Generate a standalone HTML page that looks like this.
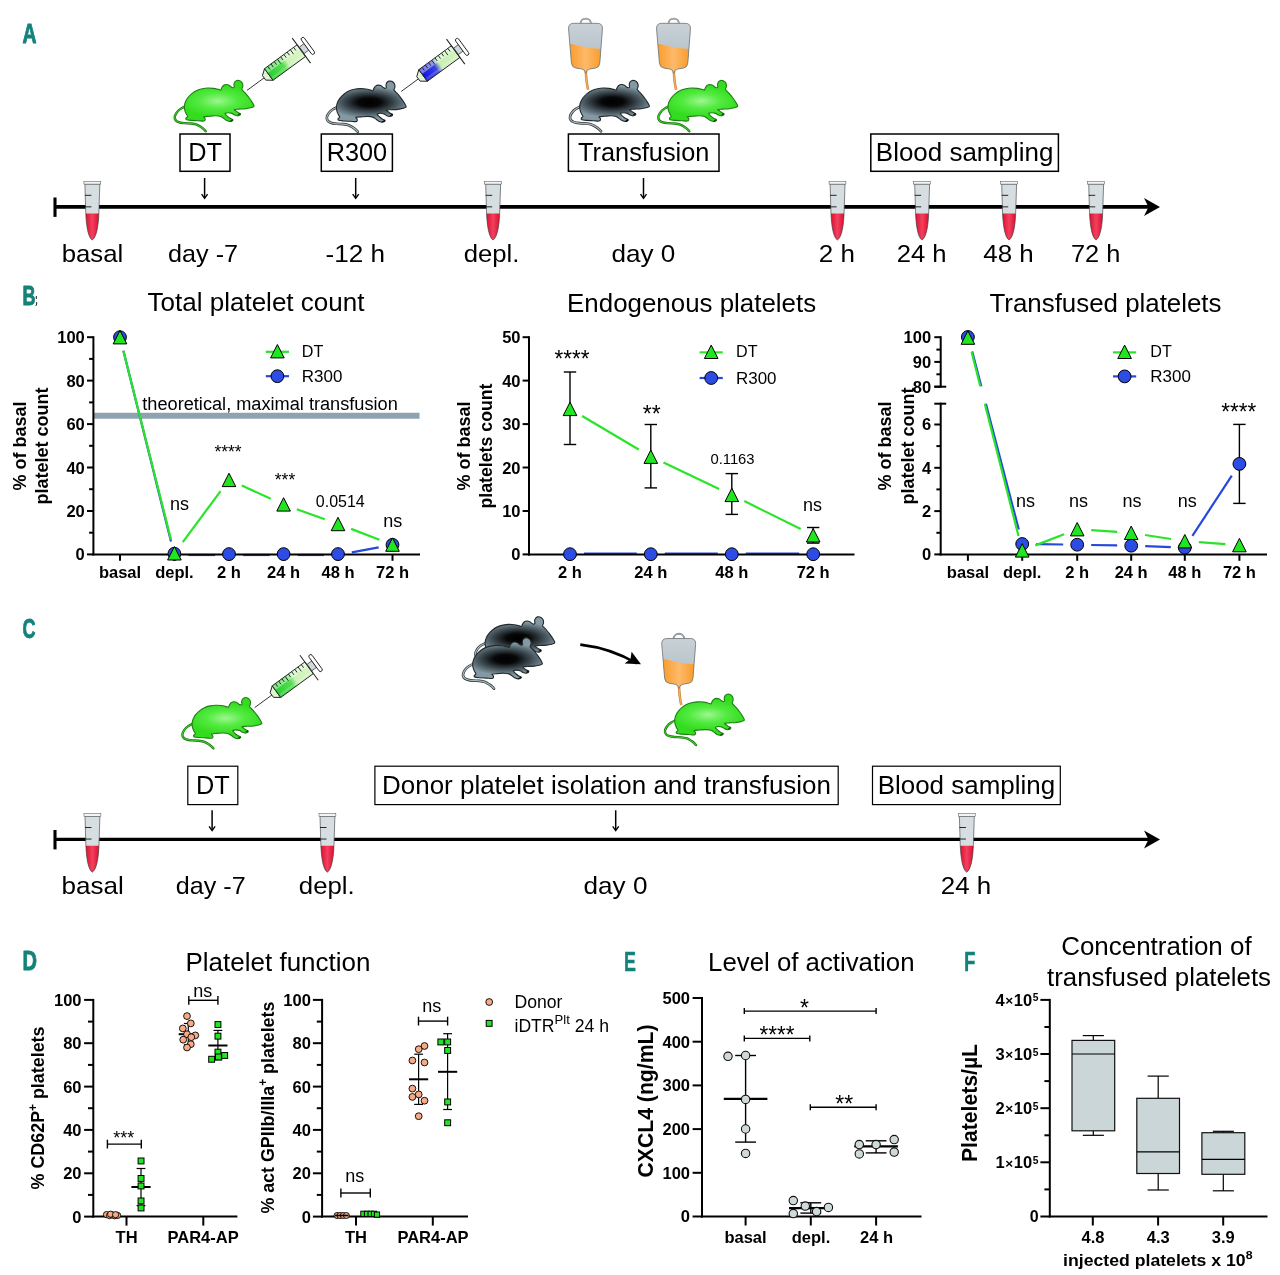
<!DOCTYPE html>
<html><head><meta charset="utf-8"><title>Figure</title>
<style>
html,body{margin:0;padding:0;background:#fff}
svg{display:block;will-change:transform;transform:translateZ(0)}
text{font-family:"Liberation Sans", sans-serif;}
</style></head>
<body>
<svg width="1280" height="1275" viewBox="0 0 1280 1275">
<defs>
<radialGradient id="gG" cx="0.48" cy="0.5" r="0.55" gradientTransform="translate(0 0.15) scale(1 0.7)">
 <stop offset="0" stop-color="#9cf78e"/><stop offset="0.5" stop-color="#52ea40"/><stop offset="1" stop-color="#33dc1e"/>
</radialGradient>
<radialGradient id="gK" cx="0.47" cy="0.52" r="0.6" gradientTransform="translate(0 0.18) scale(1 0.65)">
 <stop offset="0" stop-color="#000"/><stop offset="0.27" stop-color="#060708"/><stop offset="0.62" stop-color="#3f4c53"/><stop offset="1" stop-color="#8499a3"/>
</radialGradient>
<linearGradient id="gBlood" x1="0" x2="1" y1="0" y2="0">
 <stop offset="0" stop-color="#e00f30"/><stop offset="0.5" stop-color="#f2405f"/><stop offset="1" stop-color="#dc0e2e"/>
</linearGradient>
<linearGradient id="gOr" x1="0" x2="1" y1="0" y2="0">
 <stop offset="0" stop-color="#f8971f"/><stop offset="0.5" stop-color="#fdb96a"/><stop offset="1" stop-color="#f8951c"/>
</linearGradient>
<linearGradient id="gBag" x1="0" x2="0" y1="0" y2="1">
 <stop offset="0" stop-color="#c9d1d6"/><stop offset="1" stop-color="#aab9c4"/>
</linearGradient>
<linearGradient id="gSyG" x1="0" x2="1" y1="0" y2="0">
 <stop offset="0" stop-color="#27cf33"/><stop offset="0.42" stop-color="#55dd50"/><stop offset="0.56" stop-color="#cdf2b8"/><stop offset="1" stop-color="#d8f5c6"/>
</linearGradient>
<linearGradient id="gSyB" x1="0" x2="1" y1="0" y2="0">
 <stop offset="0" stop-color="#1414e0"/><stop offset="0.36" stop-color="#3a44e0"/><stop offset="0.5" stop-color="#c8efb4"/><stop offset="1" stop-color="#d4f3c0"/>
</linearGradient>
</defs>
<defs>
<path id="mB" d="M709.6,645.1 C708.5,640.3 705.1,633.0 699.0,622.7 C692.9,612.4 682.2,595.8 673.2,583.5 C664.2,571.1 653.4,558.2 645.2,548.7 C637.0,539.2 629.3,532.4 623.9,526.3 C618.5,520.2 613.2,518.6 612.7,512.3 C612.1,505.9 620.2,496.7 620.5,488.2 C620.9,479.7 619.0,468.6 614.9,461.3 C610.8,454.0 603.0,447.6 595.9,444.5 C588.8,441.3 579.1,440.5 572.3,442.2 C565.6,443.9 559.3,448.9 555.5,454.6 C551.7,460.2 549.9,469.5 549.3,475.8 C548.8,482.2 553.4,488.6 552.1,492.7 C550.9,496.7 546.2,499.8 542.1,500.0 C537.9,500.1 532.7,497.1 527.5,493.8 C522.3,490.5 517.2,483.5 510.7,480.3 C504.1,477.2 495.7,474.4 488.2,474.7 C480.8,475.1 471.9,478.1 465.8,482.6 C459.8,487.1 455.4,495.7 451.8,501.6 C448.3,507.6 448.7,516.5 444.5,518.4 C440.3,520.4 436.1,515.6 426.6,513.4 C417.1,511.2 401.4,506.9 387.4,505.0 C373.3,503.1 357.5,501.7 342.5,502.2 C327.6,502.7 312.6,504.5 297.7,507.8 C282.7,511.1 266.9,515.3 252.8,521.8 C238.8,528.3 225.3,537.7 213.6,547.0 C201.9,556.4 191.2,567.1 182.8,577.9 C174.4,588.6 167.8,600.3 163.2,611.5 C158.5,622.7 155.7,633.9 154.8,645.1 C153.8,656.3 155.0,667.9 157.6,678.8 C160.1,689.6 166.1,701.7 169.9,710.1 C173.6,718.5 180.5,723.6 180.0,729.2 C179.4,734.8 167.8,739.5 166.5,743.8 C165.2,748.1 165.2,752.3 172.1,755.0 C179.0,757.7 192.7,758.7 208.0,760.0 C223.3,761.3 247.4,761.9 264.1,762.8 C280.7,763.8 298.4,766.6 307.8,765.6 C317.1,764.7 318.3,760.9 320.1,757.2 C321.9,753.6 320.1,748.1 318.4,743.8 C316.7,739.5 304.1,734.2 310.0,731.4 C315.9,728.6 338.0,728.3 353.7,727.0 C369.4,725.6 389.2,723.2 404.2,723.6 C419.1,724.0 432.4,725.5 443.4,729.2 C454.4,732.9 462.8,740.9 470.3,746.0 C477.8,751.1 480.8,756.2 488.2,760.0 C495.7,763.9 507.7,768.0 515.2,769.0 C522.6,770.0 528.7,768.5 533.1,766.2 C537.5,763.9 543.4,758.3 541.5,755.0 C539.6,751.6 528.7,750.1 521.9,746.0 C515.1,741.9 506.9,735.7 500.6,730.3 C494.2,724.9 487.1,717.9 483.8,713.5 C480.4,709.1 476.9,706.4 480.4,704.0 C484.0,701.5 496.3,698.8 505.1,698.9 C513.8,699.0 524.7,701.4 533.1,704.5 C541.5,707.7 548.0,714.7 555.5,718.0 C563.0,721.3 571.0,724.1 577.9,724.2 C584.8,724.2 593.3,721.3 597.0,718.5 C600.7,715.7 603.3,711.1 600.4,707.3 C597.4,703.6 585.4,700.2 579.1,696.1 C572.7,692.0 566.5,686.5 562.2,682.7 C557.9,678.8 548.8,675.2 553.3,673.1 C557.8,671.1 573.8,671.3 589.1,670.3 C604.5,669.4 629.3,669.3 645.2,667.5 C661.1,665.8 674.3,662.3 684.4,659.7 C694.5,657.1 701.5,654.3 705.7,651.8 C709.9,649.4 710.8,650.0 709.6,645.1Z"/><path id="mT" d="M160.4,649.6 C154.3,652.8 134.9,660.8 123.9,668.7 C112.9,676.5 101.9,686.6 94.2,696.7 C86.6,706.8 79.7,719.1 78.0,729.2 C76.2,739.3 78.5,749.7 83.6,757.2 C88.6,764.7 96.8,769.8 108.2,774.0 C119.6,778.2 135.3,780.6 151.9,782.4 C168.6,784.3 191.2,783.3 208.0,785.2 C224.8,787.2 239.8,789.5 252.8,794.2 C265.9,798.9 277.1,807.3 286.5,813.3 C295.8,819.2 302.5,824.5 308.9,830.1 C315.2,835.7 322.0,844.1 324.6,846.9"/>
<g id="mouseG"><use href="#mT" fill="none" stroke="#1c7412" stroke-width="19" stroke-linecap="round"/><use href="#mT" fill="none" stroke="#3ad028" stroke-width="8" stroke-linecap="round"/><use href="#mB" fill="url(#gG)" stroke="#1f7f14" stroke-width="9"/><path d="M522,766 l16,-9 M585,716 l13,-8" stroke="#123c0a" stroke-width="9" stroke-linecap="round"/></g>
<g id="mouseK"><use href="#mT" fill="none" stroke="#2a3236" stroke-width="21" stroke-linecap="round"/><use href="#mT" fill="none" stroke="#a9b7be" stroke-width="10" stroke-linecap="round"/><use href="#mB" fill="url(#gK)" stroke="#222a2d" stroke-width="9"/><path d="M522,766 l16,-9 M585,716 l13,-8" stroke="#0a0a0a" stroke-width="9" stroke-linecap="round"/></g>
<g id="syG"><line x1="0" y1="0" x2="21.5" y2="0" stroke="#333" stroke-width="0.9"/><path d="M21.2,-2.8 L27,-7.2 L27,7.2 L21.2,2.8 Z" fill="#e0f5d2" stroke="#222" stroke-width="0.9" stroke-linejoin="round"/><rect x="27" y="-7.2" width="40.4" height="14.4" fill="url(#gSyG)" stroke="#222" stroke-width="0.9"/><rect x="27.5" y="-6.7" width="39.4" height="4.8" fill="#fff" opacity="0.42"/><rect x="27.5" y="3.6" width="39.4" height="2.6" fill="#fff" opacity="0.18"/><path d="M31,-7.2 v3.9 M35,-7.2 v3.9 M39,-7.2 v3.9 M43,-7.2 v5.4 M47,-7.2 v3.9 M51,-7.2 v3.9 M55,-7.2 v3.9 M59,-7.2 v5.4 M63,-7.2 v3.9 " stroke="#16301a" stroke-width="0.9" fill="none"/><line x1="67.4" y1="-15.5" x2="67.4" y2="15.5" stroke="#222" stroke-width="1"/><rect x="67.9" y="-4" width="5.8" height="8" fill="#cfd8df" stroke="#333" stroke-width="0.7"/><rect x="73.6" y="-10.1" width="3.6" height="20.2" rx="1.8" fill="#fff" stroke="#222" stroke-width="0.9"/></g>
<g id="syB"><line x1="0" y1="0" x2="21.5" y2="0" stroke="#333" stroke-width="0.9"/><path d="M21.2,-2.8 L27,-7.2 L27,7.2 L21.2,2.8 Z" fill="#e0f5d2" stroke="#222" stroke-width="0.9" stroke-linejoin="round"/><rect x="27" y="-7.2" width="40.4" height="14.4" fill="url(#gSyB)" stroke="#222" stroke-width="0.9"/><rect x="27.5" y="-6.7" width="39.4" height="4.8" fill="#fff" opacity="0.42"/><rect x="27.5" y="3.6" width="39.4" height="2.6" fill="#fff" opacity="0.18"/><path d="M31,-7.2 v3.9 M35,-7.2 v3.9 M39,-7.2 v3.9 M43,-7.2 v5.4 M47,-7.2 v3.9 M51,-7.2 v3.9 M55,-7.2 v3.9 M59,-7.2 v5.4 M63,-7.2 v3.9 " stroke="#16301a" stroke-width="0.9" fill="none"/><line x1="67.4" y1="-15.5" x2="67.4" y2="15.5" stroke="#222" stroke-width="1"/><rect x="67.9" y="-4" width="5.8" height="8" fill="#cfd8df" stroke="#333" stroke-width="0.7"/><rect x="73.6" y="-10.1" width="3.6" height="20.2" rx="1.8" fill="#fff" stroke="#222" stroke-width="0.9"/></g>
<clipPath id="bagc"><path d="M150,146 H336 Q381,146 378,192 L357,462 Q354,498 322,503 L276,510 Q250,516 245,545 Q240,516 214,510 L168,503 Q134,498 131,462 L108,192 Q105,146 150,146 Z"/></clipPath>
<g id="bag"><path d="M245,500 C246,560 248,610 264,676" fill="none" stroke="#c97f2f" stroke-width="20"/><path d="M245,500 C246,560 248,610 264,676" fill="none" stroke="#f3b065" stroke-width="10"/><path d="M203,150 C203,94 287,94 287,150" fill="none" stroke="#75797d" stroke-width="14"/><path d="M203,150 C203,94 287,94 287,150" fill="none" stroke="#e3e6e8" stroke-width="4"/><path d="M150,146 H336 Q381,146 378,192 L357,462 Q354,498 322,503 L276,510 Q250,516 245,545 Q240,516 214,510 L168,503 Q134,498 131,462 L108,192 Q105,146 150,146 Z" fill="url(#gBag)"/><path d="M90,306 C170,312 250,352 400,350 L400,560 L90,560 Z" fill="url(#gOr)" clip-path="url(#bagc)"/><path d="M150,146 H336 Q381,146 378,192 L357,462 Q354,498 322,503 L276,510 Q250,516 245,545 Q240,516 214,510 L168,503 Q134,498 131,462 L108,192 Q105,146 150,146 Z" fill="none" stroke="#777b7e" stroke-width="7"/></g>
<g id="tube"><path d="M572,180 L762,180 L750,555 C744,720 718,862 665,893 C614,862 590,720 583,555 Z" fill="#d6dee1"/><path d="M583,555 L750,555 C744,720 718,862 665,893 C614,862 590,720 583,555 Z" fill="url(#gBlood)"/><path d="M572,180 L762,180 L750,555 C744,720 718,862 665,893 C614,862 590,720 583,555 Z" fill="none" stroke="#3c3f41" stroke-width="8"/><rect x="559" y="144" width="215" height="36" fill="#f3f5f5" stroke="#5a5d5f" stroke-width="7"/><path d="M572,323 H655 M572,470 H655" stroke="#1a1a1a" stroke-width="12"/></g>
</defs>
<text x="22.4" y="42.8" font-size="27.2" text-anchor="start" font-weight="bold" textLength="14.0" lengthAdjust="spacingAndGlyphs" fill="#14827b" stroke="#14827b" stroke-width="0.9" stroke-linejoin="round">A</text>
<line x1="55.0" y1="206.9" x2="1152.0" y2="206.9" stroke="#000" stroke-width="3.7"/>
<line x1="55.0" y1="197.5" x2="55.0" y2="216.9" stroke="#000" stroke-width="3.1"/>
<path d="M1160.0,206.9 L1144.0,197.9 L1148.5,206.9 L1144.0,215.9 Z" fill="#000"/>
<use href="#tube" transform="translate(40.04 169.98) scale(0.07843)"/>
<use href="#tube" transform="translate(440.84 169.98) scale(0.07843)"/>
<use href="#tube" transform="translate(785.24 169.98) scale(0.07843)"/>
<use href="#tube" transform="translate(869.84 169.98) scale(0.07843)"/>
<use href="#tube" transform="translate(956.84 169.98) scale(0.07843)"/>
<use href="#tube" transform="translate(1043.84 169.98) scale(0.07843)"/>
<use href="#mouseG" transform="translate(165.0 25.0) scale(0.12547)"/>
<use href="#syG" transform="translate(247.0 90.4) rotate(-36.2)"/>
<use href="#mouseK" transform="translate(317.1 25.6) scale(0.12547)"/>
<use href="#syB" transform="translate(401.3 91.4) rotate(-36.2)"/>
<use href="#bag" transform="translate(555.0 5.0) scale(0.12547)"/>
<use href="#bag" transform="translate(643.0 5.0) scale(0.12547)"/>
<use href="#mouseK" transform="translate(560.3 25.0) scale(0.12547)"/>
<use href="#mouseG" transform="translate(648.6 25.0) scale(0.12547)"/>
<rect x="180.0" y="134.0" width="50.0" height="37.3" fill="#fff" stroke="#000" stroke-width="1.5"/>
<text x="205.0" y="160.7" font-size="25.3" text-anchor="middle">DT</text>
<rect x="321.3" y="134.0" width="71.1" height="37.3" fill="#fff" stroke="#000" stroke-width="1.5"/>
<text x="356.9" y="160.7" font-size="25.3" text-anchor="middle">R300</text>
<rect x="568.4" y="134.0" width="150.6" height="37.3" fill="#fff" stroke="#000" stroke-width="1.5"/>
<text x="643.7" y="160.7" font-size="25.3" text-anchor="middle">Transfusion</text>
<rect x="870.8" y="134.0" width="187.6" height="37.3" fill="#fff" stroke="#000" stroke-width="1.5"/>
<text x="964.6" y="160.7" font-size="25.8" text-anchor="middle" textLength="177.5" lengthAdjust="spacingAndGlyphs">Blood sampling</text>
<line x1="204.6" y1="178.0" x2="204.6" y2="197.8" stroke="#000" stroke-width="1.5"/>
<path d="M201.6,194.1 L204.6,198.3 L207.6,194.1" fill="none" stroke="#000" stroke-width="1.4"/>
<line x1="355.7" y1="178.0" x2="355.7" y2="197.8" stroke="#000" stroke-width="1.5"/>
<path d="M352.7,194.1 L355.7,198.3 L358.7,194.1" fill="none" stroke="#000" stroke-width="1.4"/>
<line x1="643.5" y1="178.0" x2="643.5" y2="197.8" stroke="#000" stroke-width="1.5"/>
<path d="M640.5,194.1 L643.5,198.3 L646.5,194.1" fill="none" stroke="#000" stroke-width="1.4"/>
<text x="92.5" y="261.5" font-size="24.8" text-anchor="middle" textLength="61.6" lengthAdjust="spacingAndGlyphs">basal</text>
<text x="203.1" y="261.5" font-size="24.8" text-anchor="middle" textLength="70.0" lengthAdjust="spacingAndGlyphs">day -7</text>
<text x="355.2" y="261.5" font-size="24.8" text-anchor="middle" textLength="59.5" lengthAdjust="spacingAndGlyphs">-12 h</text>
<text x="491.5" y="261.5" font-size="24.8" text-anchor="middle" textLength="55.7" lengthAdjust="spacingAndGlyphs">depl.</text>
<text x="643.4" y="261.5" font-size="24.8" text-anchor="middle" textLength="63.8" lengthAdjust="spacingAndGlyphs">day 0</text>
<text x="836.9" y="261.5" font-size="24.8" text-anchor="middle" textLength="36.1" lengthAdjust="spacingAndGlyphs">2 h</text>
<text x="921.6" y="261.5" font-size="24.8" text-anchor="middle" textLength="49.9" lengthAdjust="spacingAndGlyphs">24 h</text>
<text x="1008.5" y="261.5" font-size="24.8" text-anchor="middle" textLength="50.5" lengthAdjust="spacingAndGlyphs">48 h</text>
<text x="1095.7" y="261.5" font-size="24.8" text-anchor="middle" textLength="49.4" lengthAdjust="spacingAndGlyphs">72 h</text>
<text x="22.4" y="304.9" font-size="27.2" text-anchor="start" font-weight="bold" textLength="13.0" lengthAdjust="spacingAndGlyphs" fill="#14827b" stroke="#14827b" stroke-width="0.9" stroke-linejoin="round">B</text>
<path d="M36.3,296 v3 M36.6,302 q0.6,2 -0.8,4" stroke="#222" stroke-width="1" fill="none"/>
<text x="256.0" y="311.3" font-size="25" text-anchor="middle" textLength="217.0" lengthAdjust="spacingAndGlyphs">Total platelet count</text>
<line x1="93.4" y1="415.7" x2="419.5" y2="415.7" stroke="#8fa2b0" stroke-width="6.0"/>
<text x="142.3" y="409.7" font-size="18" text-anchor="start" textLength="255.5" lengthAdjust="spacingAndGlyphs">theoretical, maximal transfusion</text>
<line x1="123.4" y1="350.8" x2="171.0" y2="541.4" stroke="#2748dc" stroke-width="2.2"/>
<line x1="188.4" y1="555.0" x2="215.0" y2="555.0" stroke="#2748dc" stroke-width="2.2"/>
<line x1="243.0" y1="555.0" x2="269.6" y2="555.0" stroke="#2748dc" stroke-width="2.2"/>
<line x1="297.6" y1="555.0" x2="324.0" y2="555.0" stroke="#2748dc" stroke-width="2.2"/>
<line x1="351.8" y1="552.4" x2="378.7" y2="547.4" stroke="#2748dc" stroke-width="2.2"/>
<line x1="123.4" y1="350.8" x2="171.0" y2="539.7" stroke="#2ae42a" stroke-width="2.2"/>
<line x1="182.8" y1="542.1" x2="220.6" y2="491.1" stroke="#2ae42a" stroke-width="2.2"/>
<line x1="241.8" y1="485.6" x2="270.8" y2="498.7" stroke="#2ae42a" stroke-width="2.2"/>
<line x1="296.8" y1="509.2" x2="324.8" y2="519.3" stroke="#2ae42a" stroke-width="2.2"/>
<line x1="351.1" y1="528.9" x2="379.4" y2="539.7" stroke="#2ae42a" stroke-width="2.2"/>
<line x1="93.4" y1="336.2" x2="93.4" y2="555.4" stroke="#000" stroke-width="2"/>
<line x1="87.0" y1="554.4" x2="93.4" y2="554.4" stroke="#000" stroke-width="2"/>
<line x1="87.0" y1="511.0" x2="93.4" y2="511.0" stroke="#000" stroke-width="2"/>
<line x1="87.0" y1="467.5" x2="93.4" y2="467.5" stroke="#000" stroke-width="2"/>
<line x1="87.0" y1="424.1" x2="93.4" y2="424.1" stroke="#000" stroke-width="2"/>
<line x1="87.0" y1="380.6" x2="93.4" y2="380.6" stroke="#000" stroke-width="2"/>
<line x1="87.0" y1="337.2" x2="93.4" y2="337.2" stroke="#000" stroke-width="2"/>
<line x1="89.1" y1="532.7" x2="93.4" y2="532.7" stroke="#000" stroke-width="2"/>
<line x1="89.1" y1="489.2" x2="93.4" y2="489.2" stroke="#000" stroke-width="2"/>
<line x1="89.1" y1="445.8" x2="93.4" y2="445.8" stroke="#000" stroke-width="2"/>
<line x1="89.1" y1="402.4" x2="93.4" y2="402.4" stroke="#000" stroke-width="2"/>
<line x1="89.1" y1="358.9" x2="93.4" y2="358.9" stroke="#000" stroke-width="2"/>
<text x="84.8" y="560.3" font-size="16.5" text-anchor="end" font-weight="bold">0</text>
<text x="84.8" y="516.9" font-size="16.5" text-anchor="end" font-weight="bold">20</text>
<text x="84.8" y="473.5" font-size="16.5" text-anchor="end" font-weight="bold">40</text>
<text x="84.8" y="430.0" font-size="16.5" text-anchor="end" font-weight="bold">60</text>
<text x="84.8" y="386.6" font-size="16.5" text-anchor="end" font-weight="bold">80</text>
<text x="84.8" y="343.1" font-size="16.5" text-anchor="end" font-weight="bold">100</text>
<line x1="92.4" y1="554.4" x2="420.0" y2="554.4" stroke="#000" stroke-width="2"/>
<line x1="120.0" y1="554.4" x2="120.0" y2="560.8" stroke="#000" stroke-width="2"/>
<line x1="174.4" y1="554.4" x2="174.4" y2="560.8" stroke="#000" stroke-width="2"/>
<line x1="229.0" y1="554.4" x2="229.0" y2="560.8" stroke="#000" stroke-width="2"/>
<line x1="283.6" y1="554.4" x2="283.6" y2="560.8" stroke="#000" stroke-width="2"/>
<line x1="338.0" y1="554.4" x2="338.0" y2="560.8" stroke="#000" stroke-width="2"/>
<line x1="392.5" y1="554.4" x2="392.5" y2="560.8" stroke="#000" stroke-width="2"/>
<text x="120.0" y="578.4" font-size="16.5" text-anchor="middle" font-weight="bold">basal</text>
<text x="174.4" y="578.4" font-size="16.5" text-anchor="middle" font-weight="bold">depl.</text>
<text x="229.0" y="578.4" font-size="16.5" text-anchor="middle" font-weight="bold">2 h</text>
<text x="283.6" y="578.4" font-size="16.5" text-anchor="middle" font-weight="bold">24 h</text>
<text x="338.0" y="578.4" font-size="16.5" text-anchor="middle" font-weight="bold">48 h</text>
<text x="392.5" y="578.4" font-size="16.5" text-anchor="middle" font-weight="bold">72 h</text>
<text x="26.1" y="446.0" font-size="18" text-anchor="middle" font-weight="bold" transform="rotate(-90 26.1 446.0)">% of basal</text>
<text x="48.4" y="446.0" font-size="18" text-anchor="middle" font-weight="bold" textLength="117.0" lengthAdjust="spacingAndGlyphs" transform="rotate(-90 48.4 446.0)">platelet count</text>
<circle cx="120.0" cy="337.2" r="6.4" fill="#2c4ce4" stroke="#000" stroke-width="1.0"/>
<circle cx="174.4" cy="553.7" r="6.4" fill="#2c4ce4" stroke="#000" stroke-width="1.0"/>
<circle cx="229.0" cy="554.1" r="6.4" fill="#2c4ce4" stroke="#000" stroke-width="1.0"/>
<circle cx="283.6" cy="554.1" r="6.4" fill="#2c4ce4" stroke="#000" stroke-width="1.0"/>
<circle cx="338.0" cy="554.1" r="6.4" fill="#2c4ce4" stroke="#000" stroke-width="1.0"/>
<circle cx="392.5" cy="544.8" r="6.4" fill="#2c4ce4" stroke="#000" stroke-width="1.0"/>
<polygon points="120.0,330.5 126.8,343.9 113.2,343.9" fill="#20e620" stroke="#000" stroke-width="1.0" stroke-linejoin="miter"/>
<polygon points="174.4,546.6 181.2,560.0 167.6,560.0" fill="#20e620" stroke="#000" stroke-width="1.0" stroke-linejoin="miter"/>
<polygon points="229.0,473.2 235.8,486.6 222.2,486.6" fill="#20e620" stroke="#000" stroke-width="1.0" stroke-linejoin="miter"/>
<polygon points="283.6,497.7 290.4,511.1 276.8,511.1" fill="#20e620" stroke="#000" stroke-width="1.0" stroke-linejoin="miter"/>
<polygon points="338.0,517.3 344.8,530.7 331.2,530.7" fill="#20e620" stroke="#000" stroke-width="1.0" stroke-linejoin="miter"/>
<polygon points="392.5,537.9 399.3,551.3 385.7,551.3" fill="#20e620" stroke="#000" stroke-width="1.0" stroke-linejoin="miter"/>
<line x1="265.8" y1="351.8" x2="289.0" y2="351.8" stroke="#2ae42a" stroke-width="2.2"/>
<polygon points="277.4,344.5 284.2,357.9 270.6,357.9" fill="#20e620" stroke="#000" stroke-width="1.0" stroke-linejoin="miter"/>
<line x1="265.8" y1="376.2" x2="289.0" y2="376.2" stroke="#2748dc" stroke-width="2.2"/>
<circle cx="277.4" cy="376.2" r="6.4" fill="#2c4ce4" stroke="#000" stroke-width="1.0"/>
<text x="301.8" y="356.5" font-size="17" text-anchor="start" textLength="21.5" lengthAdjust="spacingAndGlyphs">DT</text>
<text x="301.8" y="382.0" font-size="17" text-anchor="start" textLength="40.5" lengthAdjust="spacingAndGlyphs">R300</text>
<text x="179.6" y="509.6" font-size="18" text-anchor="middle">ns</text>
<text x="228.0" y="458.3" font-size="17.5" text-anchor="middle">****</text>
<text x="285.0" y="485.7" font-size="17.5" text-anchor="middle">***</text>
<text x="340.3" y="506.9" font-size="16" text-anchor="middle">0.0514</text>
<text x="392.8" y="526.8" font-size="18" text-anchor="middle">ns</text>
<text x="691.6" y="311.5" font-size="25" text-anchor="middle" textLength="249.0" lengthAdjust="spacingAndGlyphs">Endogenous platelets</text>
<line x1="584.0" y1="553.7" x2="636.8" y2="553.7" stroke="#2748dc" stroke-width="2.2"/>
<line x1="664.8" y1="553.7" x2="717.8" y2="553.7" stroke="#2748dc" stroke-width="2.2"/>
<line x1="745.8" y1="553.7" x2="799.2" y2="553.7" stroke="#2748dc" stroke-width="2.2"/>
<line x1="582.1" y1="416.0" x2="638.7" y2="449.5" stroke="#2ae42a" stroke-width="2.2"/>
<line x1="663.5" y1="462.6" x2="719.1" y2="488.9" stroke="#2ae42a" stroke-width="2.2"/>
<line x1="744.3" y1="501.1" x2="800.7" y2="529.1" stroke="#2ae42a" stroke-width="2.2"/>
<line x1="529.0" y1="336.2" x2="529.0" y2="555.4" stroke="#000" stroke-width="2"/>
<line x1="522.6" y1="554.4" x2="529.0" y2="554.4" stroke="#000" stroke-width="2"/>
<line x1="522.6" y1="511.0" x2="529.0" y2="511.0" stroke="#000" stroke-width="2"/>
<line x1="522.6" y1="467.5" x2="529.0" y2="467.5" stroke="#000" stroke-width="2"/>
<line x1="522.6" y1="424.1" x2="529.0" y2="424.1" stroke="#000" stroke-width="2"/>
<line x1="522.6" y1="380.6" x2="529.0" y2="380.6" stroke="#000" stroke-width="2"/>
<line x1="522.6" y1="337.2" x2="529.0" y2="337.2" stroke="#000" stroke-width="2"/>
<text x="520.5" y="560.3" font-size="16.5" text-anchor="end" font-weight="bold">0</text>
<text x="520.5" y="516.9" font-size="16.5" text-anchor="end" font-weight="bold">10</text>
<text x="520.5" y="473.5" font-size="16.5" text-anchor="end" font-weight="bold">20</text>
<text x="520.5" y="430.0" font-size="16.5" text-anchor="end" font-weight="bold">30</text>
<text x="520.5" y="386.6" font-size="16.5" text-anchor="end" font-weight="bold">40</text>
<text x="520.5" y="343.1" font-size="16.5" text-anchor="end" font-weight="bold">50</text>
<line x1="528.0" y1="554.4" x2="854.5" y2="554.4" stroke="#000" stroke-width="2"/>
<line x1="570.0" y1="554.4" x2="570.0" y2="560.8" stroke="#000" stroke-width="2"/>
<line x1="650.8" y1="554.4" x2="650.8" y2="560.8" stroke="#000" stroke-width="2"/>
<line x1="731.8" y1="554.4" x2="731.8" y2="560.8" stroke="#000" stroke-width="2"/>
<line x1="813.2" y1="554.4" x2="813.2" y2="560.8" stroke="#000" stroke-width="2"/>
<text x="570.0" y="578.4" font-size="16.5" text-anchor="middle" font-weight="bold">2 h</text>
<text x="650.8" y="578.4" font-size="16.5" text-anchor="middle" font-weight="bold">24 h</text>
<text x="731.8" y="578.4" font-size="16.5" text-anchor="middle" font-weight="bold">48 h</text>
<text x="813.2" y="578.4" font-size="16.5" text-anchor="middle" font-weight="bold">72 h</text>
<text x="470.3" y="446.0" font-size="18" text-anchor="middle" font-weight="bold" transform="rotate(-90 470.3 446.0)">% of basal</text>
<text x="491.8" y="446.0" font-size="18" text-anchor="middle" font-weight="bold" textLength="125.0" lengthAdjust="spacingAndGlyphs" transform="rotate(-90 491.8 446.0)">platelets count</text>
<line x1="570.0" y1="372.0" x2="570.0" y2="444.5" stroke="#000" stroke-width="1.4"/>
<line x1="563.8" y1="372.0" x2="576.2" y2="372.0" stroke="#000" stroke-width="1.4"/>
<line x1="563.8" y1="444.5" x2="576.2" y2="444.5" stroke="#000" stroke-width="1.4"/>
<line x1="650.8" y1="424.5" x2="650.8" y2="487.9" stroke="#000" stroke-width="1.4"/>
<line x1="644.6" y1="424.5" x2="657.0" y2="424.5" stroke="#000" stroke-width="1.4"/>
<line x1="644.6" y1="487.9" x2="657.0" y2="487.9" stroke="#000" stroke-width="1.4"/>
<line x1="731.8" y1="473.6" x2="731.8" y2="514.4" stroke="#000" stroke-width="1.4"/>
<line x1="725.6" y1="473.6" x2="738.0" y2="473.6" stroke="#000" stroke-width="1.4"/>
<line x1="725.6" y1="514.4" x2="738.0" y2="514.4" stroke="#000" stroke-width="1.4"/>
<line x1="813.2" y1="527.5" x2="813.2" y2="543.1" stroke="#000" stroke-width="1.4"/>
<line x1="807.0" y1="527.5" x2="819.4" y2="527.5" stroke="#000" stroke-width="1.4"/>
<line x1="807.0" y1="543.1" x2="819.4" y2="543.1" stroke="#000" stroke-width="1.4"/>
<circle cx="570.0" cy="554.2" r="6.4" fill="#2c4ce4" stroke="#000" stroke-width="1.0"/>
<circle cx="650.8" cy="554.2" r="6.4" fill="#2c4ce4" stroke="#000" stroke-width="1.0"/>
<circle cx="731.8" cy="554.2" r="6.4" fill="#2c4ce4" stroke="#000" stroke-width="1.0"/>
<circle cx="813.2" cy="554.2" r="6.4" fill="#2c4ce4" stroke="#000" stroke-width="1.0"/>
<polygon points="570.0,402.2 576.8,415.6 563.2,415.6" fill="#20e620" stroke="#000" stroke-width="1.0" stroke-linejoin="miter"/>
<polygon points="650.8,450.0 657.6,463.4 644.0,463.4" fill="#20e620" stroke="#000" stroke-width="1.0" stroke-linejoin="miter"/>
<polygon points="731.8,488.2 738.6,501.6 725.0,501.6" fill="#20e620" stroke="#000" stroke-width="1.0" stroke-linejoin="miter"/>
<polygon points="813.2,528.6 820.0,542.0 806.4,542.0" fill="#20e620" stroke="#000" stroke-width="1.0" stroke-linejoin="miter"/>
<line x1="699.6" y1="352.4" x2="722.8" y2="352.4" stroke="#2ae42a" stroke-width="2.2"/>
<polygon points="711.2,345.1 718.0,358.5 704.4,358.5" fill="#20e620" stroke="#000" stroke-width="1.0" stroke-linejoin="miter"/>
<line x1="699.6" y1="378.0" x2="722.8" y2="378.0" stroke="#2748dc" stroke-width="2.2"/>
<circle cx="711.2" cy="378.0" r="6.4" fill="#2c4ce4" stroke="#000" stroke-width="1.0"/>
<text x="736.0" y="356.5" font-size="17" text-anchor="start" textLength="21.5" lengthAdjust="spacingAndGlyphs">DT</text>
<text x="736.0" y="383.5" font-size="17" text-anchor="start" textLength="40.5" lengthAdjust="spacingAndGlyphs">R300</text>
<text x="572.0" y="367.1" font-size="23" text-anchor="middle" textLength="35.0" lengthAdjust="spacingAndGlyphs">****</text>
<text x="651.7" y="422.1" font-size="23" text-anchor="middle">**</text>
<text x="732.5" y="463.9" font-size="14.8" text-anchor="middle">0.1163</text>
<text x="812.6" y="511.0" font-size="18" text-anchor="middle">ns</text>
<text x="1105.5" y="311.8" font-size="25" text-anchor="middle" textLength="232.0" lengthAdjust="spacingAndGlyphs">Transfused platelets</text>
<line x1="940.7" y1="336.2" x2="940.7" y2="387.7" stroke="#000" stroke-width="2"/>
<line x1="940.7" y1="402.7" x2="940.7" y2="555.4" stroke="#000" stroke-width="2"/>
<line x1="934.3" y1="386.7" x2="940.7" y2="386.7" stroke="#000" stroke-width="2"/>
<line x1="934.3" y1="361.9" x2="940.7" y2="361.9" stroke="#000" stroke-width="2"/>
<line x1="934.3" y1="337.2" x2="940.7" y2="337.2" stroke="#000" stroke-width="2"/>
<line x1="936.4" y1="374.3" x2="940.7" y2="374.3" stroke="#000" stroke-width="2"/>
<line x1="936.4" y1="349.6" x2="940.7" y2="349.6" stroke="#000" stroke-width="2"/>
<line x1="934.3" y1="554.4" x2="940.7" y2="554.4" stroke="#000" stroke-width="2"/>
<line x1="934.3" y1="511.1" x2="940.7" y2="511.1" stroke="#000" stroke-width="2"/>
<line x1="934.3" y1="467.8" x2="940.7" y2="467.8" stroke="#000" stroke-width="2"/>
<line x1="934.3" y1="424.5" x2="940.7" y2="424.5" stroke="#000" stroke-width="2"/>
<line x1="936.4" y1="532.8" x2="940.7" y2="532.8" stroke="#000" stroke-width="2"/>
<line x1="936.4" y1="489.4" x2="940.7" y2="489.4" stroke="#000" stroke-width="2"/>
<line x1="936.4" y1="446.1" x2="940.7" y2="446.1" stroke="#000" stroke-width="2"/>
<line x1="934.3" y1="386.7" x2="946.2" y2="386.7" stroke="#000" stroke-width="2"/>
<line x1="934.3" y1="403.7" x2="946.2" y2="403.7" stroke="#000" stroke-width="2"/>
<text x="931.1" y="343.0" font-size="16.5" text-anchor="end" font-weight="bold">100</text>
<text x="931.1" y="367.8" font-size="16.5" text-anchor="end" font-weight="bold">90</text>
<text x="931.1" y="392.5" font-size="16.5" text-anchor="end" font-weight="bold">80</text>
<text x="931.1" y="560.2" font-size="16.5" text-anchor="end" font-weight="bold">0</text>
<text x="931.1" y="516.9" font-size="16.5" text-anchor="end" font-weight="bold">2</text>
<text x="931.1" y="473.6" font-size="16.5" text-anchor="end" font-weight="bold">4</text>
<text x="931.1" y="430.3" font-size="16.5" text-anchor="end" font-weight="bold">6</text>
<line x1="939.7" y1="554.4" x2="1267.0" y2="554.4" stroke="#000" stroke-width="2"/>
<line x1="967.9" y1="554.4" x2="967.9" y2="560.8" stroke="#000" stroke-width="2"/>
<line x1="1022.2" y1="554.4" x2="1022.2" y2="560.8" stroke="#000" stroke-width="2"/>
<line x1="1077.2" y1="554.4" x2="1077.2" y2="560.8" stroke="#000" stroke-width="2"/>
<line x1="1131.2" y1="554.4" x2="1131.2" y2="560.8" stroke="#000" stroke-width="2"/>
<line x1="1184.8" y1="554.4" x2="1184.8" y2="560.8" stroke="#000" stroke-width="2"/>
<line x1="1239.4" y1="554.4" x2="1239.4" y2="560.8" stroke="#000" stroke-width="2"/>
<text x="967.9" y="578.4" font-size="16.5" text-anchor="middle" font-weight="bold">basal</text>
<text x="1022.2" y="578.4" font-size="16.5" text-anchor="middle" font-weight="bold">depl.</text>
<text x="1077.2" y="578.4" font-size="16.5" text-anchor="middle" font-weight="bold">2 h</text>
<text x="1131.2" y="578.4" font-size="16.5" text-anchor="middle" font-weight="bold">24 h</text>
<text x="1184.8" y="578.4" font-size="16.5" text-anchor="middle" font-weight="bold">48 h</text>
<text x="1239.4" y="578.4" font-size="16.5" text-anchor="middle" font-weight="bold">72 h</text>
<text x="891.4" y="446.0" font-size="18" text-anchor="middle" font-weight="bold" transform="rotate(-90 891.4 446.0)">% of basal</text>
<text x="914.0" y="446.0" font-size="18" text-anchor="middle" font-weight="bold" textLength="117.0" lengthAdjust="spacingAndGlyphs" transform="rotate(-90 914.0 446.0)">platelet count</text>
<line x1="972.2" y1="351.5" x2="981.3" y2="386.2" stroke="#2748dc" stroke-width="2.2"/>
<line x1="985.9" y1="403.8" x2="1018.8" y2="529.5" stroke="#2748dc" stroke-width="2.2"/>
<line x1="1036.2" y1="544.2" x2="1063.2" y2="544.5" stroke="#2748dc" stroke-width="2.2"/>
<line x1="1091.2" y1="545.0" x2="1117.2" y2="545.4" stroke="#2748dc" stroke-width="2.2"/>
<line x1="1145.2" y1="546.2" x2="1170.8" y2="547.1" stroke="#2748dc" stroke-width="2.2"/>
<line x1="1192.4" y1="535.9" x2="1231.8" y2="475.6" stroke="#2748dc" stroke-width="2.2"/>
<line x1="971.6" y1="352.1" x2="980.3" y2="386.2" stroke="#2ae42a" stroke-width="2.2"/>
<line x1="984.8" y1="403.8" x2="1018.5" y2="535.9" stroke="#2ae42a" stroke-width="2.2"/>
<line x1="1035.3" y1="545.4" x2="1064.1" y2="534.2" stroke="#2ae42a" stroke-width="2.2"/>
<line x1="1091.2" y1="530.1" x2="1117.2" y2="531.9" stroke="#2ae42a" stroke-width="2.2"/>
<line x1="1145.0" y1="535.0" x2="1171.0" y2="539.0" stroke="#2ae42a" stroke-width="2.2"/>
<line x1="1198.8" y1="542.2" x2="1225.4" y2="544.1" stroke="#2ae42a" stroke-width="2.2"/>
<line x1="1239.4" y1="424.4" x2="1239.4" y2="503.4" stroke="#000" stroke-width="1.4"/>
<line x1="1233.2" y1="424.4" x2="1245.6" y2="424.4" stroke="#000" stroke-width="1.4"/>
<line x1="1233.2" y1="503.4" x2="1245.6" y2="503.4" stroke="#000" stroke-width="1.4"/>
<circle cx="967.9" cy="337.0" r="6.4" fill="#2c4ce4" stroke="#000" stroke-width="1.0"/>
<polygon points="967.9,330.9 974.7,344.3 961.1,344.3" fill="#20e620" stroke="#000" stroke-width="1.0" stroke-linejoin="miter"/>
<circle cx="1022.2" cy="544.0" r="6.4" fill="#2c4ce4" stroke="#000" stroke-width="1.0"/>
<polygon points="1022.2,543.7 1029.0,557.1 1015.4,557.1" fill="#20e620" stroke="#000" stroke-width="1.0" stroke-linejoin="miter"/>
<circle cx="1077.2" cy="544.7" r="6.4" fill="#2c4ce4" stroke="#000" stroke-width="1.0"/>
<polygon points="1077.2,522.5 1084.0,535.9 1070.4,535.9" fill="#20e620" stroke="#000" stroke-width="1.0" stroke-linejoin="miter"/>
<circle cx="1131.2" cy="545.7" r="6.4" fill="#2c4ce4" stroke="#000" stroke-width="1.0"/>
<polygon points="1131.2,526.1 1138.0,539.5 1124.4,539.5" fill="#20e620" stroke="#000" stroke-width="1.0" stroke-linejoin="miter"/>
<circle cx="1184.8" cy="547.6" r="6.4" fill="#2c4ce4" stroke="#000" stroke-width="1.0"/>
<polygon points="1184.8,534.5 1191.6,547.9 1178.0,547.9" fill="#20e620" stroke="#000" stroke-width="1.0" stroke-linejoin="miter"/>
<polygon points="1239.4,538.4 1246.2,551.8 1232.6,551.8" fill="#20e620" stroke="#000" stroke-width="1.0" stroke-linejoin="miter"/>
<circle cx="1239.4" cy="463.9" r="6.4" fill="#2c4ce4" stroke="#000" stroke-width="1.0"/>
<line x1="1113.0" y1="352.4" x2="1136.2" y2="352.4" stroke="#2ae42a" stroke-width="2.2"/>
<polygon points="1124.6,345.1 1131.4,358.5 1117.8,358.5" fill="#20e620" stroke="#000" stroke-width="1.0" stroke-linejoin="miter"/>
<line x1="1113.0" y1="376.4" x2="1136.2" y2="376.4" stroke="#2748dc" stroke-width="2.2"/>
<circle cx="1124.6" cy="376.4" r="6.4" fill="#2c4ce4" stroke="#000" stroke-width="1.0"/>
<text x="1150.3" y="356.5" font-size="17" text-anchor="start" textLength="21.5" lengthAdjust="spacingAndGlyphs">DT</text>
<text x="1150.3" y="381.5" font-size="17" text-anchor="start" textLength="40.5" lengthAdjust="spacingAndGlyphs">R300</text>
<text x="1025.6" y="506.9" font-size="18" text-anchor="middle">ns</text>
<text x="1078.6" y="506.9" font-size="18" text-anchor="middle">ns</text>
<text x="1131.9" y="506.9" font-size="18" text-anchor="middle">ns</text>
<text x="1187.2" y="506.9" font-size="18" text-anchor="middle">ns</text>
<text x="1238.8" y="420.1" font-size="23" text-anchor="middle" textLength="35.0" lengthAdjust="spacingAndGlyphs">****</text>
<text x="22.4" y="637.8" font-size="27.2" text-anchor="start" font-weight="bold" textLength="13.0" lengthAdjust="spacingAndGlyphs" fill="#14827b" stroke="#14827b" stroke-width="0.9" stroke-linejoin="round">C</text>
<line x1="55.0" y1="839.4" x2="1152.0" y2="839.4" stroke="#000" stroke-width="3.4"/>
<line x1="55.0" y1="830.0" x2="55.0" y2="849.4" stroke="#000" stroke-width="3.1"/>
<path d="M1160.0,839.4 L1144.0,830.4 L1148.5,839.4 L1144.0,848.4 Z" fill="#000"/>
<use href="#tube" transform="translate(40.14 802.18) scale(0.07843)"/>
<use href="#tube" transform="translate(275.14 802.18) scale(0.07843)"/>
<use href="#tube" transform="translate(914.54 802.18) scale(0.07843)"/>
<use href="#mouseG" transform="translate(172.7 642.2) scale(0.12547)"/>
<use href="#syG" transform="translate(254.7 707.6) rotate(-36.2)"/>
<use href="#mouseK" transform="translate(465.7 561.4) scale(0.12547)"/>
<use href="#mouseK" transform="translate(453.3 582.4) scale(0.12547)"/>
<use href="#bag" transform="translate(648.2 620.2) scale(0.12547)"/>
<use href="#mouseG" transform="translate(655.3 638.8) scale(0.12547)"/>
<path d="M580.3,644.6 C601,647 621,654 637,663.5" fill="none" stroke="#000" stroke-width="2.6"/>
<path d="M641,664.2 L624.6,663.6 L630.5,659 L631.6,651.8 Z" fill="#000"/>
<rect x="187.8" y="766.2" width="50.0" height="38.4" fill="#fff" stroke="#000" stroke-width="1.2"/>
<text x="212.8" y="793.7" font-size="25.3" text-anchor="middle">DT</text>
<rect x="374.9" y="766.2" width="463.3" height="38.4" fill="#fff" stroke="#000" stroke-width="1.2"/>
<text x="606.5" y="793.7" font-size="25.3" text-anchor="middle" textLength="449.0" lengthAdjust="spacingAndGlyphs">Donor platelet isolation and transfusion</text>
<rect x="872.5" y="766.2" width="187.8" height="38.4" fill="#fff" stroke="#000" stroke-width="1.2"/>
<text x="966.4" y="793.7" font-size="25.8" text-anchor="middle" textLength="177.5" lengthAdjust="spacingAndGlyphs">Blood sampling</text>
<line x1="212.1" y1="810.3" x2="212.1" y2="830.1" stroke="#000" stroke-width="1.5"/>
<path d="M209.1,826.4 L212.1,830.6 L215.1,826.4" fill="none" stroke="#000" stroke-width="1.4"/>
<line x1="615.7" y1="810.3" x2="615.7" y2="830.1" stroke="#000" stroke-width="1.5"/>
<path d="M612.7,826.4 L615.7,830.6 L618.7,826.4" fill="none" stroke="#000" stroke-width="1.4"/>
<text x="92.6" y="894.2" font-size="24.8" text-anchor="middle" textLength="62.3" lengthAdjust="spacingAndGlyphs">basal</text>
<text x="210.7" y="894.2" font-size="24.8" text-anchor="middle" textLength="69.8" lengthAdjust="spacingAndGlyphs">day -7</text>
<text x="326.8" y="894.2" font-size="24.8" text-anchor="middle" textLength="55.9" lengthAdjust="spacingAndGlyphs">depl.</text>
<text x="615.5" y="894.2" font-size="24.8" text-anchor="middle" textLength="63.9" lengthAdjust="spacingAndGlyphs">day 0</text>
<text x="966.0" y="894.2" font-size="24.8" text-anchor="middle" textLength="50.4" lengthAdjust="spacingAndGlyphs">24 h</text>
<text x="22.4" y="970.2" font-size="27.2" text-anchor="start" font-weight="bold" textLength="14.5" lengthAdjust="spacingAndGlyphs" fill="#14827b" stroke="#14827b" stroke-width="0.9" stroke-linejoin="round">D</text>
<text x="278.0" y="970.8" font-size="25.5" text-anchor="middle" textLength="185.0" lengthAdjust="spacingAndGlyphs">Platelet function</text>
<line x1="93.3" y1="998.9" x2="93.3" y2="1217.6" stroke="#000" stroke-width="2"/>
<line x1="84.1" y1="1216.6" x2="93.3" y2="1216.6" stroke="#000" stroke-width="2"/>
<line x1="84.1" y1="1173.3" x2="93.3" y2="1173.3" stroke="#000" stroke-width="2"/>
<line x1="84.1" y1="1129.9" x2="93.3" y2="1129.9" stroke="#000" stroke-width="2"/>
<line x1="84.1" y1="1086.6" x2="93.3" y2="1086.6" stroke="#000" stroke-width="2"/>
<line x1="84.1" y1="1043.2" x2="93.3" y2="1043.2" stroke="#000" stroke-width="2"/>
<line x1="84.1" y1="999.9" x2="93.3" y2="999.9" stroke="#000" stroke-width="2"/>
<line x1="88.0" y1="1194.9" x2="93.3" y2="1194.9" stroke="#000" stroke-width="2"/>
<line x1="88.0" y1="1151.6" x2="93.3" y2="1151.6" stroke="#000" stroke-width="2"/>
<line x1="88.0" y1="1108.2" x2="93.3" y2="1108.2" stroke="#000" stroke-width="2"/>
<line x1="88.0" y1="1064.9" x2="93.3" y2="1064.9" stroke="#000" stroke-width="2"/>
<line x1="88.0" y1="1021.6" x2="93.3" y2="1021.6" stroke="#000" stroke-width="2"/>
<text x="81.5" y="1222.5" font-size="16.5" text-anchor="end" font-weight="bold">0</text>
<text x="81.5" y="1179.2" font-size="16.5" text-anchor="end" font-weight="bold">20</text>
<text x="81.5" y="1135.9" font-size="16.5" text-anchor="end" font-weight="bold">40</text>
<text x="81.5" y="1092.5" font-size="16.5" text-anchor="end" font-weight="bold">60</text>
<text x="81.5" y="1049.2" font-size="16.5" text-anchor="end" font-weight="bold">80</text>
<text x="81.5" y="1005.8" font-size="16.5" text-anchor="end" font-weight="bold">100</text>
<line x1="92.3" y1="1216.6" x2="237.4" y2="1216.6" stroke="#000" stroke-width="2"/>
<line x1="126.5" y1="1216.6" x2="126.5" y2="1225.6" stroke="#000" stroke-width="2"/>
<line x1="203.3" y1="1216.6" x2="203.3" y2="1225.6" stroke="#000" stroke-width="2"/>
<text x="126.6" y="1242.7" font-size="16.5" text-anchor="middle" font-weight="bold">TH</text>
<text x="203.1" y="1242.7" font-size="16.5" text-anchor="middle" font-weight="bold">PAR4-AP</text>
<text x="44.3" y="1108.0" font-size="19" text-anchor="middle" font-weight="bold" textLength="163.0" lengthAdjust="spacingAndGlyphs" transform="rotate(-90 44.3 1108.0)">% CD62P<tspan dy="-7" font-size="12.5">+</tspan><tspan dy="7"> platelets</tspan></text>
<line x1="111.6" y1="1214.6" x2="111.6" y2="1215.9" stroke="#000" stroke-width="1.2"/>
<line x1="109.6" y1="1214.6" x2="113.6" y2="1214.6" stroke="#000" stroke-width="1.2"/>
<line x1="109.6" y1="1215.9" x2="113.6" y2="1215.9" stroke="#000" stroke-width="1.2"/>
<line x1="106.6" y1="1215.2" x2="116.6" y2="1215.2" stroke="#000" stroke-width="2.0"/>
<circle cx="106.5" cy="1214.6" r="3.1" fill="#f7aa84" stroke="#000" stroke-width="0.9"/>
<circle cx="109.5" cy="1215.6" r="3.1" fill="#f7aa84" stroke="#000" stroke-width="0.9"/>
<circle cx="112.0" cy="1214.8" r="3.1" fill="#f7aa84" stroke="#000" stroke-width="0.9"/>
<circle cx="114.6" cy="1215.8" r="3.1" fill="#f7aa84" stroke="#000" stroke-width="0.9"/>
<circle cx="117.6" cy="1215.4" r="3.1" fill="#f7aa84" stroke="#000" stroke-width="0.9"/>
<circle cx="110.6" cy="1214.2" r="3.1" fill="#f7aa84" stroke="#000" stroke-width="0.9"/>
<circle cx="115.6" cy="1214.7" r="3.1" fill="#f7aa84" stroke="#000" stroke-width="0.9"/>
<line x1="141.0" y1="1168.5" x2="141.0" y2="1205.6" stroke="#000" stroke-width="1.2"/>
<line x1="136.6" y1="1168.5" x2="145.4" y2="1168.5" stroke="#000" stroke-width="1.2"/>
<line x1="136.6" y1="1205.6" x2="145.4" y2="1205.6" stroke="#000" stroke-width="1.2"/>
<line x1="131.4" y1="1187.0" x2="150.6" y2="1187.0" stroke="#000" stroke-width="2.0"/>
<rect x="138.1" y="1158.0" width="5.9" height="5.9" fill="#20e620" stroke="#000" stroke-width="1.0"/>
<rect x="138.1" y="1175.5" width="5.9" height="5.9" fill="#20e620" stroke="#000" stroke-width="1.0"/>
<rect x="138.1" y="1183.0" width="5.9" height="5.9" fill="#20e620" stroke="#000" stroke-width="1.0"/>
<rect x="138.1" y="1198.0" width="5.9" height="5.9" fill="#20e620" stroke="#000" stroke-width="1.0"/>
<rect x="138.1" y="1205.0" width="5.9" height="5.9" fill="#20e620" stroke="#000" stroke-width="1.0"/>
<line x1="107.4" y1="1144.1" x2="141.3" y2="1144.1" stroke="#000" stroke-width="1.4"/>
<line x1="107.4" y1="1139.7" x2="107.4" y2="1148.5" stroke="#000" stroke-width="1.4"/>
<line x1="141.3" y1="1139.7" x2="141.3" y2="1148.5" stroke="#000" stroke-width="1.4"/>
<text x="123.7" y="1144.1" font-size="18" text-anchor="middle">***</text>
<line x1="188.3" y1="1023.5" x2="188.3" y2="1044.6" stroke="#000" stroke-width="1.2"/>
<line x1="183.9" y1="1023.5" x2="192.7" y2="1023.5" stroke="#000" stroke-width="1.2"/>
<line x1="183.9" y1="1044.6" x2="192.7" y2="1044.6" stroke="#000" stroke-width="1.2"/>
<line x1="178.7" y1="1034.2" x2="197.9" y2="1034.2" stroke="#000" stroke-width="2.0"/>
<circle cx="187.0" cy="1016.1" r="3.4" fill="#f7aa84" stroke="#000" stroke-width="0.9"/>
<circle cx="190.8" cy="1023.4" r="3.4" fill="#f7aa84" stroke="#000" stroke-width="0.9"/>
<circle cx="182.8" cy="1028.4" r="3.4" fill="#f7aa84" stroke="#000" stroke-width="0.9"/>
<circle cx="187.0" cy="1034.2" r="3.4" fill="#f7aa84" stroke="#000" stroke-width="0.9"/>
<circle cx="195.3" cy="1035.4" r="3.4" fill="#f7aa84" stroke="#000" stroke-width="0.9"/>
<circle cx="191.3" cy="1037.2" r="3.4" fill="#f7aa84" stroke="#000" stroke-width="0.9"/>
<circle cx="183.2" cy="1039.7" r="3.4" fill="#f7aa84" stroke="#000" stroke-width="0.9"/>
<circle cx="190.8" cy="1044.2" r="3.4" fill="#f7aa84" stroke="#000" stroke-width="0.9"/>
<circle cx="187.0" cy="1047.5" r="3.4" fill="#f7aa84" stroke="#000" stroke-width="0.9"/>
<line x1="217.9" y1="1030.4" x2="217.9" y2="1059.8" stroke="#000" stroke-width="1.2"/>
<line x1="213.5" y1="1030.4" x2="222.3" y2="1030.4" stroke="#000" stroke-width="1.2"/>
<line x1="213.5" y1="1059.8" x2="222.3" y2="1059.8" stroke="#000" stroke-width="1.2"/>
<line x1="208.3" y1="1045.5" x2="227.5" y2="1045.5" stroke="#000" stroke-width="2.0"/>
<rect x="215.0" y="1021.6" width="5.9" height="5.9" fill="#20e620" stroke="#000" stroke-width="1.0"/>
<rect x="215.0" y="1033.2" width="5.9" height="5.9" fill="#20e620" stroke="#000" stroke-width="1.0"/>
<rect x="215.0" y="1049.2" width="5.9" height="5.9" fill="#20e620" stroke="#000" stroke-width="1.0"/>
<rect x="221.7" y="1052.5" width="5.9" height="5.9" fill="#20e620" stroke="#000" stroke-width="1.0"/>
<rect x="208.7" y="1056.3" width="5.9" height="5.9" fill="#20e620" stroke="#000" stroke-width="1.0"/>
<rect x="215.5" y="1054.0" width="5.9" height="5.9" fill="#20e620" stroke="#000" stroke-width="1.0"/>
<line x1="188.8" y1="1000.3" x2="217.9" y2="1000.3" stroke="#000" stroke-width="1.4"/>
<line x1="188.8" y1="995.9" x2="188.8" y2="1004.7" stroke="#000" stroke-width="1.4"/>
<line x1="217.9" y1="995.9" x2="217.9" y2="1004.7" stroke="#000" stroke-width="1.4"/>
<text x="202.8" y="997.3" font-size="18" text-anchor="middle">ns</text>
<line x1="322.1" y1="998.9" x2="322.1" y2="1217.6" stroke="#000" stroke-width="2"/>
<line x1="312.9" y1="1216.6" x2="322.1" y2="1216.6" stroke="#000" stroke-width="2"/>
<line x1="312.9" y1="1173.3" x2="322.1" y2="1173.3" stroke="#000" stroke-width="2"/>
<line x1="312.9" y1="1129.9" x2="322.1" y2="1129.9" stroke="#000" stroke-width="2"/>
<line x1="312.9" y1="1086.6" x2="322.1" y2="1086.6" stroke="#000" stroke-width="2"/>
<line x1="312.9" y1="1043.2" x2="322.1" y2="1043.2" stroke="#000" stroke-width="2"/>
<line x1="312.9" y1="999.9" x2="322.1" y2="999.9" stroke="#000" stroke-width="2"/>
<line x1="316.8" y1="1194.9" x2="322.1" y2="1194.9" stroke="#000" stroke-width="2"/>
<line x1="316.8" y1="1151.6" x2="322.1" y2="1151.6" stroke="#000" stroke-width="2"/>
<line x1="316.8" y1="1108.2" x2="322.1" y2="1108.2" stroke="#000" stroke-width="2"/>
<line x1="316.8" y1="1064.9" x2="322.1" y2="1064.9" stroke="#000" stroke-width="2"/>
<line x1="316.8" y1="1021.6" x2="322.1" y2="1021.6" stroke="#000" stroke-width="2"/>
<text x="310.9" y="1222.5" font-size="16.5" text-anchor="end" font-weight="bold">0</text>
<text x="310.9" y="1179.2" font-size="16.5" text-anchor="end" font-weight="bold">20</text>
<text x="310.9" y="1135.9" font-size="16.5" text-anchor="end" font-weight="bold">40</text>
<text x="310.9" y="1092.5" font-size="16.5" text-anchor="end" font-weight="bold">60</text>
<text x="310.9" y="1049.2" font-size="16.5" text-anchor="end" font-weight="bold">80</text>
<text x="310.9" y="1005.8" font-size="16.5" text-anchor="end" font-weight="bold">100</text>
<line x1="321.1" y1="1216.6" x2="468.0" y2="1216.6" stroke="#000" stroke-width="2"/>
<line x1="356.0" y1="1216.6" x2="356.0" y2="1225.6" stroke="#000" stroke-width="2"/>
<line x1="432.8" y1="1216.6" x2="432.8" y2="1225.6" stroke="#000" stroke-width="2"/>
<text x="355.9" y="1242.7" font-size="16.5" text-anchor="middle" font-weight="bold">TH</text>
<text x="433.0" y="1242.7" font-size="16.5" text-anchor="middle" font-weight="bold">PAR4-AP</text>
<text x="274.3" y="1107.6" font-size="19" text-anchor="middle" font-weight="bold" textLength="212.0" lengthAdjust="spacingAndGlyphs" transform="rotate(-90 274.3 1107.6)">% act GPIIb/IIIa<tspan dy="-7" font-size="12.5">+</tspan><tspan dy="7"> platelets</tspan></text>
<circle cx="337.0" cy="1215.5" r="3.0" fill="#f7aa84" stroke="#000" stroke-width="0.9"/>
<circle cx="340.0" cy="1215.5" r="3.0" fill="#f7aa84" stroke="#000" stroke-width="0.9"/>
<circle cx="343.2" cy="1215.5" r="3.0" fill="#f7aa84" stroke="#000" stroke-width="0.9"/>
<circle cx="346.4" cy="1215.5" r="3.0" fill="#f7aa84" stroke="#000" stroke-width="0.9"/>
<line x1="335.0" y1="1215.5" x2="348.5" y2="1215.5" stroke="#000" stroke-width="1.6"/>
<rect x="360.8" y="1211.2" width="5.2" height="5.2" fill="#20e620" stroke="#000" stroke-width="1.0"/>
<rect x="364.4" y="1211.2" width="5.2" height="5.2" fill="#20e620" stroke="#000" stroke-width="1.0"/>
<rect x="368.0" y="1211.2" width="5.2" height="5.2" fill="#20e620" stroke="#000" stroke-width="1.0"/>
<rect x="371.4" y="1211.2" width="5.2" height="5.2" fill="#20e620" stroke="#000" stroke-width="1.0"/>
<rect x="374.4" y="1212.0" width="5.2" height="5.2" fill="#20e620" stroke="#000" stroke-width="1.0"/>
<line x1="340.9" y1="1193.0" x2="370.3" y2="1193.0" stroke="#000" stroke-width="1.4"/>
<line x1="340.9" y1="1188.6" x2="340.9" y2="1197.4" stroke="#000" stroke-width="1.4"/>
<line x1="370.3" y1="1188.6" x2="370.3" y2="1197.4" stroke="#000" stroke-width="1.4"/>
<text x="354.7" y="1182.3" font-size="18" text-anchor="middle">ns</text>
<line x1="418.6" y1="1054.2" x2="418.6" y2="1104.4" stroke="#000" stroke-width="1.2"/>
<line x1="414.2" y1="1054.2" x2="423.0" y2="1054.2" stroke="#000" stroke-width="1.2"/>
<line x1="414.2" y1="1104.4" x2="423.0" y2="1104.4" stroke="#000" stroke-width="1.2"/>
<line x1="409.0" y1="1079.3" x2="428.2" y2="1079.3" stroke="#000" stroke-width="2.0"/>
<circle cx="424.5" cy="1046.0" r="3.4" fill="#f7aa84" stroke="#000" stroke-width="0.9"/>
<circle cx="418.7" cy="1049.2" r="3.4" fill="#f7aa84" stroke="#000" stroke-width="0.9"/>
<circle cx="412.4" cy="1060.5" r="3.4" fill="#f7aa84" stroke="#000" stroke-width="0.9"/>
<circle cx="424.5" cy="1062.5" r="3.4" fill="#f7aa84" stroke="#000" stroke-width="0.9"/>
<circle cx="412.4" cy="1088.6" r="3.4" fill="#f7aa84" stroke="#000" stroke-width="0.9"/>
<circle cx="418.7" cy="1094.4" r="3.4" fill="#f7aa84" stroke="#000" stroke-width="0.9"/>
<circle cx="412.4" cy="1096.9" r="3.4" fill="#f7aa84" stroke="#000" stroke-width="0.9"/>
<circle cx="424.5" cy="1100.7" r="3.4" fill="#f7aa84" stroke="#000" stroke-width="0.9"/>
<circle cx="418.7" cy="1116.2" r="3.4" fill="#f7aa84" stroke="#000" stroke-width="0.9"/>
<line x1="447.6" y1="1033.7" x2="447.6" y2="1109.5" stroke="#000" stroke-width="1.2"/>
<line x1="443.2" y1="1033.7" x2="452.0" y2="1033.7" stroke="#000" stroke-width="1.2"/>
<line x1="443.2" y1="1109.5" x2="452.0" y2="1109.5" stroke="#000" stroke-width="1.2"/>
<line x1="438.0" y1="1071.8" x2="457.2" y2="1071.8" stroke="#000" stroke-width="2.0"/>
<rect x="437.9" y="1039.0" width="5.9" height="5.9" fill="#20e620" stroke="#000" stroke-width="1.0"/>
<rect x="444.7" y="1039.0" width="5.9" height="5.9" fill="#20e620" stroke="#000" stroke-width="1.0"/>
<rect x="444.7" y="1047.5" width="5.9" height="5.9" fill="#20e620" stroke="#000" stroke-width="1.0"/>
<rect x="444.7" y="1099.0" width="5.9" height="5.9" fill="#20e620" stroke="#000" stroke-width="1.0"/>
<rect x="444.7" y="1119.8" width="5.9" height="5.9" fill="#20e620" stroke="#000" stroke-width="1.0"/>
<line x1="418.5" y1="1021.1" x2="447.6" y2="1021.1" stroke="#000" stroke-width="1.4"/>
<line x1="418.5" y1="1016.7" x2="418.5" y2="1025.5" stroke="#000" stroke-width="1.4"/>
<line x1="447.6" y1="1016.7" x2="447.6" y2="1025.5" stroke="#000" stroke-width="1.4"/>
<text x="431.8" y="1011.6" font-size="18" text-anchor="middle">ns</text>
<circle cx="489.2" cy="1002.0" r="3.4" fill="#f7aa84" stroke="#000" stroke-width="0.9"/>
<rect x="486.2" y="1020.4" width="5.9" height="5.9" fill="#20e620" stroke="#000" stroke-width="1.0"/>
<text x="514.5" y="1007.8" font-size="17.5" text-anchor="start" textLength="48.0" lengthAdjust="spacingAndGlyphs">Donor</text>
<text x="514.5" y="1032.4" font-size="17.5" text-anchor="start" textLength="94.5" lengthAdjust="spacingAndGlyphs">iDTR<tspan dy="-8" font-size="13">Plt</tspan><tspan dy="8"> 24 h</tspan></text>
<text x="624.0" y="970.5" font-size="27.2" text-anchor="start" font-weight="bold" textLength="12.0" lengthAdjust="spacingAndGlyphs" fill="#14827b" stroke="#14827b" stroke-width="0.3" stroke-linejoin="round">E</text>
<text x="811.3" y="970.8" font-size="25.5" text-anchor="middle" textLength="206.5" lengthAdjust="spacingAndGlyphs">Level of activation</text>
<line x1="702.0" y1="997.0" x2="702.0" y2="1217.5" stroke="#000" stroke-width="2"/>
<line x1="692.6" y1="1216.5" x2="702.0" y2="1216.5" stroke="#000" stroke-width="2"/>
<line x1="692.6" y1="1172.8" x2="702.0" y2="1172.8" stroke="#000" stroke-width="2"/>
<line x1="692.6" y1="1129.1" x2="702.0" y2="1129.1" stroke="#000" stroke-width="2"/>
<line x1="692.6" y1="1085.4" x2="702.0" y2="1085.4" stroke="#000" stroke-width="2"/>
<line x1="692.6" y1="1041.7" x2="702.0" y2="1041.7" stroke="#000" stroke-width="2"/>
<line x1="692.6" y1="998.0" x2="702.0" y2="998.0" stroke="#000" stroke-width="2"/>
<text x="690.0" y="1222.4" font-size="16.5" text-anchor="end" font-weight="bold">0</text>
<text x="690.0" y="1178.7" font-size="16.5" text-anchor="end" font-weight="bold">100</text>
<text x="690.0" y="1135.0" font-size="16.5" text-anchor="end" font-weight="bold">200</text>
<text x="690.0" y="1091.3" font-size="16.5" text-anchor="end" font-weight="bold">300</text>
<text x="690.0" y="1047.6" font-size="16.5" text-anchor="end" font-weight="bold">400</text>
<text x="690.0" y="1003.9" font-size="16.5" text-anchor="end" font-weight="bold">500</text>
<line x1="701.0" y1="1216.5" x2="921.5" y2="1216.5" stroke="#000" stroke-width="2"/>
<line x1="745.6" y1="1216.5" x2="745.6" y2="1225.5" stroke="#000" stroke-width="2"/>
<line x1="810.8" y1="1216.5" x2="810.8" y2="1225.5" stroke="#000" stroke-width="2"/>
<line x1="876.1" y1="1216.5" x2="876.1" y2="1225.5" stroke="#000" stroke-width="2"/>
<text x="745.5" y="1242.7" font-size="16.5" text-anchor="middle" font-weight="bold">basal</text>
<text x="811.0" y="1242.7" font-size="16.5" text-anchor="middle" font-weight="bold">depl.</text>
<text x="876.6" y="1242.7" font-size="16.5" text-anchor="middle" font-weight="bold">24 h</text>
<text x="652.5" y="1101.0" font-size="21.5" text-anchor="middle" font-weight="bold" textLength="153.0" lengthAdjust="spacingAndGlyphs" transform="rotate(-90 652.5 1101.0)">CXCL4 (ng/mL)</text>
<line x1="745.6" y1="1055.5" x2="745.6" y2="1142.1" stroke="#000" stroke-width="1.4"/>
<line x1="735.2" y1="1055.5" x2="756.0" y2="1055.5" stroke="#000" stroke-width="1.4"/>
<line x1="735.2" y1="1142.1" x2="756.0" y2="1142.1" stroke="#000" stroke-width="1.4"/>
<line x1="723.8" y1="1098.9" x2="767.4" y2="1098.9" stroke="#000" stroke-width="2.4"/>
<circle cx="728.0" cy="1056.3" r="4.2" fill="#d0d9da" stroke="#111" stroke-width="1.1"/>
<circle cx="745.6" cy="1055.5" r="4.2" fill="#d0d9da" stroke="#111" stroke-width="1.1"/>
<circle cx="745.6" cy="1099.4" r="4.2" fill="#d0d9da" stroke="#111" stroke-width="1.1"/>
<circle cx="745.6" cy="1129.0" r="4.2" fill="#d0d9da" stroke="#111" stroke-width="1.1"/>
<circle cx="745.6" cy="1153.4" r="4.2" fill="#d0d9da" stroke="#111" stroke-width="1.1"/>
<line x1="810.8" y1="1202.8" x2="810.8" y2="1213.1" stroke="#000" stroke-width="1.4"/>
<line x1="800.4" y1="1202.8" x2="821.2" y2="1202.8" stroke="#000" stroke-width="1.4"/>
<line x1="800.4" y1="1213.1" x2="821.2" y2="1213.1" stroke="#000" stroke-width="1.4"/>
<line x1="789.0" y1="1208.1" x2="832.6" y2="1208.1" stroke="#000" stroke-width="2.4"/>
<circle cx="793.3" cy="1200.6" r="4.2" fill="#d0d9da" stroke="#111" stroke-width="1.1"/>
<circle cx="805.3" cy="1206.1" r="4.2" fill="#d0d9da" stroke="#111" stroke-width="1.1"/>
<circle cx="793.3" cy="1213.6" r="4.2" fill="#d0d9da" stroke="#111" stroke-width="1.1"/>
<circle cx="816.6" cy="1211.6" r="4.2" fill="#d0d9da" stroke="#111" stroke-width="1.1"/>
<circle cx="828.4" cy="1207.4" r="4.2" fill="#d0d9da" stroke="#111" stroke-width="1.1"/>
<line x1="876.1" y1="1140.8" x2="876.1" y2="1152.9" stroke="#000" stroke-width="1.4"/>
<line x1="865.7" y1="1140.8" x2="886.5" y2="1140.8" stroke="#000" stroke-width="1.4"/>
<line x1="865.7" y1="1152.9" x2="886.5" y2="1152.9" stroke="#000" stroke-width="1.4"/>
<line x1="854.3" y1="1146.4" x2="897.9" y2="1146.4" stroke="#000" stroke-width="2.4"/>
<circle cx="859.3" cy="1144.6" r="4.2" fill="#d0d9da" stroke="#111" stroke-width="1.1"/>
<circle cx="859.3" cy="1153.9" r="4.2" fill="#d0d9da" stroke="#111" stroke-width="1.1"/>
<circle cx="876.1" cy="1144.6" r="4.2" fill="#d0d9da" stroke="#111" stroke-width="1.1"/>
<circle cx="894.2" cy="1139.6" r="4.2" fill="#d0d9da" stroke="#111" stroke-width="1.1"/>
<circle cx="894.2" cy="1152.1" r="4.2" fill="#d0d9da" stroke="#111" stroke-width="1.1"/>
<line x1="744.3" y1="1011.1" x2="876.1" y2="1011.1" stroke="#000" stroke-width="1.4"/>
<line x1="744.3" y1="1008.1" x2="744.3" y2="1014.1" stroke="#000" stroke-width="1.4"/>
<line x1="876.1" y1="1008.1" x2="876.1" y2="1014.1" stroke="#000" stroke-width="1.4"/>
<text x="804.6" y="1016.2" font-size="23" text-anchor="middle">*</text>
<line x1="744.3" y1="1038.4" x2="809.8" y2="1038.4" stroke="#000" stroke-width="1.4"/>
<line x1="744.3" y1="1035.4" x2="744.3" y2="1041.4" stroke="#000" stroke-width="1.4"/>
<line x1="809.8" y1="1035.4" x2="809.8" y2="1041.4" stroke="#000" stroke-width="1.4"/>
<text x="777.0" y="1043.4" font-size="23" text-anchor="middle" textLength="35.0" lengthAdjust="spacingAndGlyphs">****</text>
<line x1="810.3" y1="1107.2" x2="876.1" y2="1107.2" stroke="#000" stroke-width="1.4"/>
<line x1="810.3" y1="1104.2" x2="810.3" y2="1110.2" stroke="#000" stroke-width="1.4"/>
<line x1="876.1" y1="1104.2" x2="876.1" y2="1110.2" stroke="#000" stroke-width="1.4"/>
<text x="844.2" y="1112.4" font-size="23" text-anchor="middle">**</text>
<text x="964.0" y="970.9" font-size="27.2" text-anchor="start" font-weight="bold" textLength="11.5" lengthAdjust="spacingAndGlyphs" fill="#14827b" stroke="#14827b" stroke-width="0.3" stroke-linejoin="round">F</text>
<text x="1156.4" y="954.8" font-size="25.5" text-anchor="middle" textLength="190.5" lengthAdjust="spacingAndGlyphs">Concentration of</text>
<text x="1159.0" y="986.0" font-size="25.5" text-anchor="middle" textLength="224.0" lengthAdjust="spacingAndGlyphs">transfused platelets</text>
<line x1="1049.8" y1="998.9" x2="1049.8" y2="1217.5" stroke="#000" stroke-width="2"/>
<line x1="1040.4" y1="1216.5" x2="1049.8" y2="1216.5" stroke="#000" stroke-width="2"/>
<line x1="1040.4" y1="1162.3" x2="1049.8" y2="1162.3" stroke="#000" stroke-width="2"/>
<line x1="1040.4" y1="1108.2" x2="1049.8" y2="1108.2" stroke="#000" stroke-width="2"/>
<line x1="1040.4" y1="1054.0" x2="1049.8" y2="1054.0" stroke="#000" stroke-width="2"/>
<line x1="1040.4" y1="999.9" x2="1049.8" y2="999.9" stroke="#000" stroke-width="2"/>
<line x1="1044.4" y1="1189.4" x2="1049.8" y2="1189.4" stroke="#000" stroke-width="2"/>
<line x1="1044.4" y1="1135.3" x2="1049.8" y2="1135.3" stroke="#000" stroke-width="2"/>
<line x1="1044.4" y1="1081.1" x2="1049.8" y2="1081.1" stroke="#000" stroke-width="2"/>
<line x1="1044.4" y1="1027.0" x2="1049.8" y2="1027.0" stroke="#000" stroke-width="2"/>
<text x="1038.6" y="1168.1" font-size="16.5" text-anchor="end" font-weight="bold">1<tspan font-size="13.5" dx="0.6" dy="-0.6">×</tspan><tspan dx="0.6" dy="0.6">10</tspan><tspan dy="-4.3" dx="0.8" font-size="10.3">5</tspan></text>
<text x="1038.6" y="1114.0" font-size="16.5" text-anchor="end" font-weight="bold">2<tspan font-size="13.5" dx="0.6" dy="-0.6">×</tspan><tspan dx="0.6" dy="0.6">10</tspan><tspan dy="-4.3" dx="0.8" font-size="10.3">5</tspan></text>
<text x="1038.6" y="1059.8" font-size="16.5" text-anchor="end" font-weight="bold">3<tspan font-size="13.5" dx="0.6" dy="-0.6">×</tspan><tspan dx="0.6" dy="0.6">10</tspan><tspan dy="-4.3" dx="0.8" font-size="10.3">5</tspan></text>
<text x="1038.6" y="1005.7" font-size="16.5" text-anchor="end" font-weight="bold">4<tspan font-size="13.5" dx="0.6" dy="-0.6">×</tspan><tspan dx="0.6" dy="0.6">10</tspan><tspan dy="-4.3" dx="0.8" font-size="10.3">5</tspan></text>
<text x="1038.6" y="1222.3" font-size="16" text-anchor="end" font-weight="bold">0</text>
<line x1="1048.8" y1="1216.5" x2="1267.5" y2="1216.5" stroke="#000" stroke-width="2"/>
<line x1="1092.8" y1="1216.5" x2="1092.8" y2="1225.5" stroke="#000" stroke-width="2"/>
<line x1="1158.1" y1="1216.5" x2="1158.1" y2="1225.5" stroke="#000" stroke-width="2"/>
<line x1="1223.2" y1="1216.5" x2="1223.2" y2="1225.5" stroke="#000" stroke-width="2"/>
<text x="1093.0" y="1243.1" font-size="16.5" text-anchor="middle" font-weight="bold">4.8</text>
<text x="1158.2" y="1243.1" font-size="16.5" text-anchor="middle" font-weight="bold">4.3</text>
<text x="1223.3" y="1243.1" font-size="16.5" text-anchor="middle" font-weight="bold">3.9</text>
<text x="1157.8" y="1265.5" font-size="16.5" text-anchor="middle" font-weight="bold" textLength="189.5" lengthAdjust="spacingAndGlyphs">injected platelets x 10<tspan dy="-7" font-size="11.5">8</tspan></text>
<text x="976.5" y="1103.0" font-size="21.5" text-anchor="middle" font-weight="bold" textLength="118.0" lengthAdjust="spacingAndGlyphs" transform="rotate(-90 976.5 1103.0)">Platelets/µL</text>
<line x1="1093.3" y1="1035.6" x2="1093.3" y2="1040.4" stroke="#000" stroke-width="1.2"/>
<line x1="1093.3" y1="1130.8" x2="1093.3" y2="1135.3" stroke="#000" stroke-width="1.2"/>
<line x1="1082.8" y1="1035.6" x2="1103.9" y2="1035.6" stroke="#000" stroke-width="1.2"/>
<line x1="1082.8" y1="1135.3" x2="1103.9" y2="1135.3" stroke="#000" stroke-width="1.2"/>
<rect x="1072.0" y="1040.4" width="42.7" height="90.4" fill="#cbd6d8" stroke="#111" stroke-width="1.2"/>
<line x1="1072.0" y1="1054.0" x2="1114.7" y2="1054.0" stroke="#000" stroke-width="1.2"/>
<line x1="1158.2" y1="1076.1" x2="1158.2" y2="1098.3" stroke="#000" stroke-width="1.2"/>
<line x1="1158.2" y1="1173.5" x2="1158.2" y2="1190.0" stroke="#000" stroke-width="1.2"/>
<line x1="1147.6" y1="1076.1" x2="1168.8" y2="1076.1" stroke="#000" stroke-width="1.2"/>
<line x1="1147.6" y1="1190.0" x2="1168.8" y2="1190.0" stroke="#000" stroke-width="1.2"/>
<rect x="1136.8" y="1098.3" width="42.7" height="75.2" fill="#cbd6d8" stroke="#111" stroke-width="1.2"/>
<line x1="1136.8" y1="1151.9" x2="1179.5" y2="1151.9" stroke="#000" stroke-width="1.2"/>
<line x1="1223.3" y1="1131.3" x2="1223.3" y2="1132.7" stroke="#000" stroke-width="1.2"/>
<line x1="1223.3" y1="1174.3" x2="1223.3" y2="1190.8" stroke="#000" stroke-width="1.2"/>
<line x1="1212.8" y1="1131.3" x2="1233.9" y2="1131.3" stroke="#000" stroke-width="1.2"/>
<line x1="1212.8" y1="1190.8" x2="1233.9" y2="1190.8" stroke="#000" stroke-width="1.2"/>
<rect x="1201.9" y="1132.7" width="42.9" height="41.6" fill="#cbd6d8" stroke="#111" stroke-width="1.2"/>
<line x1="1201.9" y1="1159.3" x2="1244.8" y2="1159.3" stroke="#000" stroke-width="1.2"/>
</svg>
</body></html>
